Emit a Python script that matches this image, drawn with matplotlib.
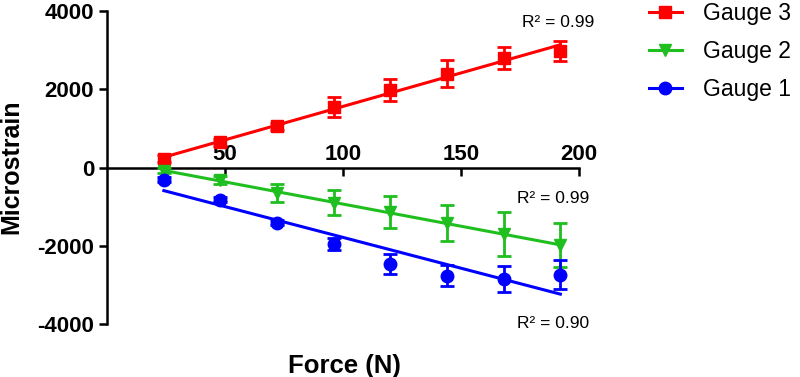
import numpy as np
import matplotlib
matplotlib.use('Agg')
import matplotlib.pyplot as plt

# Force (N) applied
force = [24, 48, 72, 96, 120, 144, 168, 192]

# mean microstrain and error (SD) per gauge
gauge3 = [230, 640, 1050, 1540, 1970, 2400, 2790, 2980]
gauge3_err = [80, 80, 100, 250, 280, 340, 280, 250]
gauge2 = [-80, -330, -640, -900, -1140, -1430, -1700, -1990]
gauge2_err = [60, 100, 230, 320, 400, 460, 550, 560]
gauge1 = [-310, -820, -1410, -1950, -2460, -2770, -2850, -2740]
gauge1_err = [60, 60, 60, 150, 260, 270, 340, 370]

r2_labels = ['R² = 0.99', 'R² = 0.99', 'R² = 0.90']

plt.rcParams['font.family'] = ['Liberation Sans', 'DejaVu Sans']
plt.rcParams['axes.unicode_minus'] = False

fig = plt.figure(figsize=(8, 3.77), dpi=100)
ax = fig.add_axes([0.134, 0.1406, 0.590, 0.8302])

series = [
    (gauge3, gauge3_err, '#ff0000', 's', 'Gauge 3'),
    (gauge2, gauge2_err, '#1fbf1f', 'v', 'Gauge 2'),
    (gauge1, gauge1_err, '#0000ff', 'o', 'Gauge 1'),
]

x = np.array(force)
handles = []
for y, err, col, mk, lab in series:
    ax.errorbar(x, y, yerr=err, fmt=mk, color=col, ms=9, capsize=5,
                elinewidth=2, capthick=2, zorder=3)
    # linear fit line through the points
    k, b = np.polyfit(x, y, 1)
    ax.plot([x[0], x[-1]], [k * x[0] + b, k * x[-1] + b], color=col, lw=2.2, zorder=2)
    h, = ax.plot([], [], color=col, marker=mk, ms=9, lw=2.2, label=lab)
    handles.append(h)

# R^2 notes
ax.text(191, 3700, r2_labels[0], ha='center', va='center', fontsize=12.5, clip_on=False)
ax.text(189, -800, r2_labels[1], ha='center', va='center', fontsize=12.5, clip_on=False)
ax.text(189, -4000, r2_labels[2], ha='center', va='center', fontsize=12.5, clip_on=False)

ax.set_xlim(0, 200)
ax.set_ylim(-4000, 4000)
ax.set_xticks([50, 100, 150, 200])
ax.set_yticks([-4000, -2000, 0, 2000, 4000])

ax.spines['right'].set_visible(False)
ax.spines['bottom'].set_position(('data', 0))
ax.spines['top'].set_position(('data', 0))
ax.spines['top'].set_visible(False)
for s in ['left', 'bottom']:
    ax.spines[s].set_linewidth(1.8)

ax.tick_params(axis='both', width=1.8, length=6, labelsize=16)
ax.tick_params(axis='x', bottom=True, top=False, labelbottom=False, labeltop=True, pad=-4)
for t in ax.get_xticklabels() + ax.get_yticklabels():
    t.set_fontweight('bold')

fig.text(0.014, 1 - 167 / 377, 'Microstrain', fontsize=18, fontweight='bold',
         rotation=90, ha='center', va='center')
fig.text(0.43, 0.03, 'Force (N)', fontsize=18.5, fontweight='bold', ha='center', va='center')

fig.legend(handles=handles, loc='upper left', bbox_to_anchor=(0.786, 1.05), frameon=False,
           fontsize=16.5, handlelength=1.4, labelspacing=0.65, handletextpad=0.95)

fig.savefig('out.png', dpi=100)
